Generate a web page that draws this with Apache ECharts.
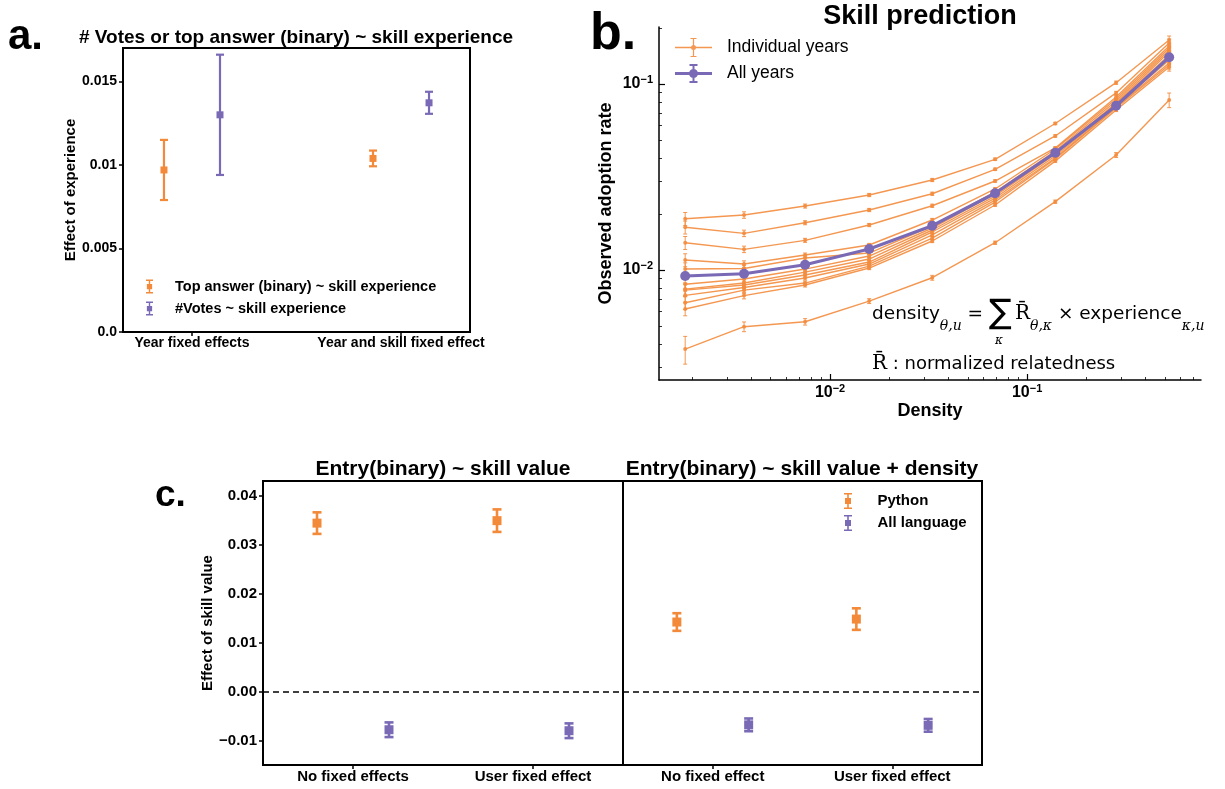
<!DOCTYPE html>
<html>
<head>
<meta charset="utf-8">
<script src="https://cdn.jsdelivr.net/npm/echarts@6/dist/echarts.min.js"></script>
<style>
  html, body { margin: 0; background: #fff; }
  #main { width: 1225px; height: 789px; }
</style>
</head>
<body>
<div id="main"></div>
<script>
// ---- panel a: # votes / top answer vs skill experience
const aCats = ['Year fixed effects', 'Year and skill fixed effect']
const aTopAnswer = [0.0097, 0.01039]
const aTopAnswerErr = [0.0018, 0.00047]
const aVotes = [0.0130, 0.01372]
const aVotesErr = [0.0036, 0.00066]
const aYTicks = [0, 0.005, 0.01, 0.015]
const aYLabels = ['0.0', '0.005', '0.01', '0.015']

// ---- panel b: skill prediction (log-log)
const bDensity = [0.00184, 0.00366, 0.00747, 0.0158, 0.033, 0.0688, 0.139, 0.283, 0.526]
const indiv1 = [0.01887, 0.01976, 0.02208, 0.02530, 0.03047, 0.03937, 0.06132, 0.1016, 0.1724]
const indiv2 = [0.01697, 0.01575, 0.01796, 0.02102, 0.02571, 0.03478, 0.05254, 0.0895, 0.1661]
const indiv3 = [0.01402, 0.01292, 0.01444, 0.01745, 0.02216, 0.03009, 0.0453, 0.0851, 0.1601]
const indiv4 = [0.01132, 0.01077, 0.01204, 0.01363, 0.01857, 0.02726, 0.0447, 0.0831, 0.1562]
const indiv5 = [0.01012, 0.01019, 0.01160, 0.01234, 0.01724, 0.02627, 0.0436, 0.0810, 0.1524]
const indiv6 = [0.00838, 0.00895, 0.01012, 0.01189, 0.01682, 0.02562, 0.0426, 0.0790, 0.1486]
const indiv7 = [0.00790, 0.00851, 0.00975, 0.01146, 0.01641, 0.02499, 0.0420, 0.0780, 0.1432]
const indiv8 = [0.00780, 0.00831, 0.00940, 0.01104, 0.01601, 0.02438, 0.0410, 0.0761, 0.1346]
const indiv9 = [0.00731, 0.00805, 0.00906, 0.01077, 0.01543, 0.02378, 0.0400, 0.0752, 0.1297]
const indiv10 = [0.00667, 0.00780, 0.00851, 0.01050, 0.01486, 0.02320, 0.0395, 0.0743, 0.1265]
const indiv11 = [0.00617, 0.00729, 0.00831, 0.01025, 0.01432, 0.02236, 0.0385, 0.0725, 0.1234]
const indiv12 = [0.00376, 0.00496, 0.00527, 0.00681, 0.00909, 0.01402, 0.02330, 0.04152, 0.0820]
const indivErr = [0.08, 0.04, 0.025, 0.02, 0.02, 0.015, 0.015, 0.02, 0.05] // relative
const indivLowErr = [0.17, 0.06, 0.04, 0.03, 0.03, 0.02, 0.02, 0.03, 0.09]
const allYears = [0.00929, 0.00955, 0.01068, 0.01298, 0.01730, 0.02585, 0.04272, 0.0764, 0.1391]
const allYearsErr = [0.012, 0.01, 0.01, 0.01, 0.01, 0.01, 0.01, 0.01, 0.012]
const bMajor = [0.01, 0.1]
const bMinorY = [0.003, 0.004, 0.005, 0.006, 0.007, 0.008, 0.009, 0.02, 0.03, 0.04, 0.05, 0.06, 0.07, 0.08, 0.09, 0.2]
const bMinorX = [0.002, 0.003, 0.004, 0.005, 0.006, 0.007, 0.008, 0.009, 0.02, 0.03, 0.04, 0.05, 0.06, 0.07, 0.08, 0.09,
  0.2, 0.3, 0.4, 0.5, 0.6, 0.7]

// ---- panel c: entry vs skill value
const cCatsLeft = ['No fixed effects', 'User fixed effect']
const cCatsRight = ['No fixed effect', 'User fixed effect']
const cPythonLeft = [0.0344, 0.0349]
const cPythonLeftErr = [0.0022, 0.0023]
const cAllLeft = [-0.0078, -0.0080]
const cAllLeftErr = [0.0015, 0.0015]
const cPythonRight = [0.0142, 0.0148]
const cPythonRightErr = [0.0018, 0.0022]
const cAllRight = [-0.0068, -0.0069]
const cAllRightErr = [0.0013, 0.0013]
const cYTicks = [-0.01, 0, 0.01, 0.02, 0.03, 0.04]

const FONT = '"Liberation Sans", Arial, Helvetica, sans-serif'
const ORANGE = '#f28a3a'
const PURPLE = '#7a6ab6'
const ORANGE_LINE = 'rgba(243,140,62,0.9)'

const iconBar = 'path://M0,0H8V1.6H4.8V5H7V11H4.8V14.4H8V16H0V14.4H3.2V11H1V5H3.2V1.6H0Z'
const iconIndiv = 'path://M0,8.8H37V10.2H0Z M17.9,0H19.1V19H17.9Z M15.5,0H21.5V1H15.5Z M15.5,18H21.5V19H15.5Z' +
  'M16,9.5A2.5,2.5 0 1,1 21,9.5A2.5,2.5 0 1,1 16,9.5Z'
const iconAll = 'path://M0,8H37V11H0Z M17.5,0H19.5V19H17.5Z M14.5,0H22.5V2H14.5Z M14.5,17H22.5V19H14.5Z' +
  'M14,9.5A4.5,4.5 0 1,1 23,9.5A4.5,4.5 0 1,1 14,9.5Z'

function errorBar(capHalf, width) {
  return function (params, api) {
    const x = api.value(0)
    const lo = api.coord([x, api.value(1)])
    const hi = api.coord([x, api.value(2)])
    const style = { stroke: api.visual('color'), lineWidth: width }
    return {
      type: 'group',
      children: [
        { type: 'line', shape: { x1: lo[0], y1: lo[1], x2: hi[0], y2: hi[1] }, style },
        { type: 'line', shape: { x1: lo[0] - capHalf, y1: lo[1], x2: lo[0] + capHalf, y2: lo[1] }, style },
        { type: 'line', shape: { x1: hi[0] - capHalf, y1: hi[1], x2: hi[0] + capHalf, y2: hi[1] }, style }
      ]
    }
  }
}

function pick(ticks, labels, v) {
  for (let i = 0; i < ticks.length; i++) {
    if (Math.abs(ticks[i] - v) < 1e-9) return labels[i]
  }
  return ''
}

const boldLabel = (size) => ({ color: '#000', fontWeight: 'bold', fontSize: size, fontFamily: FONT })

// dodge: points sit either side of the category centre
const aOffset = 0.134
const cOffset = 0.2

function dodged(values, offset) {
  return values.map((v, i) => [i + 1 + offset, v])
}
function dodgedErr(values, errs, offset) {
  return values.map((v, i) => [i + 1 + offset, v - errs[i], v + errs[i]])
}

const bIndividual = [indiv1, indiv2, indiv3, indiv4, indiv5, indiv6, indiv7, indiv8, indiv9, indiv10, indiv11, indiv12]

const chart = echarts.init(document.getElementById('main'), null, { renderer: 'canvas' })

const series = []

// panel a
series.push(
  { name: 'Top answer (binary) ~ skill experience', type: 'custom', xAxisIndex: 0, yAxisIndex: 0,
    renderItem: errorBar(4, 2.2), itemStyle: { color: ORANGE }, data: dodgedErr(aTopAnswer, aTopAnswerErr, -aOffset), z: 2 },
  { name: 'Top answer (binary) ~ skill experience', type: 'scatter', xAxisIndex: 0, yAxisIndex: 0,
    symbol: 'rect', symbolSize: 7, itemStyle: { color: ORANGE, opacity: 1 }, data: dodged(aTopAnswer, -aOffset), z: 3 },
  { name: '#Votes ~ skill experience', type: 'custom', xAxisIndex: 0, yAxisIndex: 0,
    renderItem: errorBar(4, 2.2), itemStyle: { color: PURPLE }, data: dodgedErr(aVotes, aVotesErr, aOffset), z: 2 },
  { name: '#Votes ~ skill experience', type: 'scatter', xAxisIndex: 0, yAxisIndex: 0,
    symbol: 'rect', symbolSize: 7, itemStyle: { color: PURPLE, opacity: 1 }, data: dodged(aVotes, aOffset), z: 3 }
)

// panel b
bIndividual.forEach((line, k) => {
  const rel = k === bIndividual.length - 1 ? indivLowErr : indivErr
  series.push({
    name: 'Individual years', type: 'line', xAxisIndex: 1, yAxisIndex: 1,
    data: line.map((v, i) => [bDensity[i], v]),
    symbol: 'circle', symbolSize: 4, showSymbol: true,
    lineStyle: { color: ORANGE_LINE, width: 1.4 }, itemStyle: { color: ORANGE_LINE }, z: 2
  })
  series.push({
    name: 'Individual years', type: 'custom', xAxisIndex: 1, yAxisIndex: 1,
    renderItem: errorBar(2, 1), itemStyle: { color: ORANGE_LINE },
    data: line.map((v, i) => [bDensity[i], v * (1 - rel[i]), v * (1 + rel[i])]), z: 2
  })
})
series.push(
  { name: 'All years', type: 'custom', xAxisIndex: 1, yAxisIndex: 1, renderItem: errorBar(4, 2),
    itemStyle: { color: PURPLE }, data: allYears.map((v, i) => [bDensity[i], v * (1 - allYearsErr[i]), v * (1 + allYearsErr[i])]), z: 4 },
  { name: 'All years', type: 'line', xAxisIndex: 1, yAxisIndex: 1,
    data: allYears.map((v, i) => [bDensity[i], v]),
    symbol: 'circle', symbolSize: 10, lineStyle: { color: PURPLE, width: 3.2 }, itemStyle: { color: PURPLE }, z: 5 }
)

// panel c
const zeroLine = {
  silent: true, symbol: 'none', label: { show: false },
  lineStyle: { type: [6, 4], color: '#000', width: 1.5 },
  data: [{ yAxis: 0 }]
}
;[[3, cPythonLeft, cPythonLeftErr, cAllLeft, cAllLeftErr], [4, cPythonRight, cPythonRightErr, cAllRight, cAllRightErr]]
  .forEach(([ax, py, pyErr, al, alErr]) => {
    series.push(
      { name: 'Python', type: 'custom', xAxisIndex: ax, yAxisIndex: ax, renderItem: errorBar(4.5, 2.6),
        itemStyle: { color: ORANGE }, data: dodgedErr(py, pyErr, -cOffset), z: 2 },
      { name: 'Python', type: 'scatter', xAxisIndex: ax, yAxisIndex: ax, symbol: 'rect', symbolSize: 9,
        itemStyle: { color: ORANGE, opacity: 1 }, data: dodged(py, -cOffset), z: 3, markLine: zeroLine },
      { name: 'All language', type: 'custom', xAxisIndex: ax, yAxisIndex: ax, renderItem: errorBar(4.5, 2.6),
        itemStyle: { color: PURPLE }, data: dodgedErr(al, alErr, cOffset), z: 2 },
      { name: 'All language', type: 'scatter', xAxisIndex: ax, yAxisIndex: ax, symbol: 'rect', symbolSize: 9,
        itemStyle: { color: PURPLE, opacity: 1 }, data: dodged(al, cOffset), z: 3 }
    )
  })

const powRich = {
  b: { fontSize: 16, fontWeight: 'bold', fontFamily: FONT, color: '#000', lineHeight: 20 },
  s: { fontSize: 11, fontWeight: 'bold', fontFamily: FONT, color: '#000', lineHeight: 10, verticalAlign: 'top' }
}
const powFormatter = (v) => '{b|10}{s|\u2212' + Math.round(-Math.log10(v)) + '}'

const cYAxis = (grid, showLabels) => ({
  gridIndex: grid, type: 'value', min: -0.015, max: 0.043,
  axisLine: { show: false }, splitLine: { show: false },
  axisTick: { show: showLabels, customValues: cYTicks, length: 4, lineStyle: { color: '#000', width: 1.5 } },
  axisLabel: {
    show: showLabels, customValues: cYTicks, margin: 6, ...boldLabel(15),
    formatter: (v) => v.toFixed(2).replace('-', '\u2212')
  },
  name: showLabels ? 'Effect of skill value' : '', nameLocation: 'middle', nameGap: 43,
  nameTextStyle: boldLabel(15)
})
const cXAxis = (grid, cats) => ({
  gridIndex: grid, type: 'value', min: 0.5, max: 2.5,
  axisLine: { show: false, onZero: false }, splitLine: { show: false },
  axisTick: { customValues: [1, 2], length: 4, lineStyle: { color: '#000', width: 1.5 } },
  axisLabel: { customValues: [1, 2], margin: 4, ...boldLabel(15), formatter: (v) => cats[Math.round(v) - 1] }
})

const boxGrid = { show: true, borderColor: '#000', borderWidth: 2, backgroundColor: 'transparent', outerBoundsMode: 'none' }

const option = {
  animation: false,
  backgroundColor: '#fff',
  title: [
    { text: '# Votes or top answer (binary) ~ skill experience', left: 296, top: 26, textAlign: 'center', padding: 0,
      textStyle: { ...boldLabel(19), lineHeight: 24 } },
    { text: 'Skill prediction', left: 920, top: 1, textAlign: 'center', padding: 0,
      textStyle: { ...boldLabel(27), lineHeight: 32 } },
    { text: 'Entry(binary) ~ skill value', left: 443, top: 456, textAlign: 'center', padding: 0,
      textStyle: { ...boldLabel(21), lineHeight: 26 } },
    { text: 'Entry(binary) ~ skill value + density', left: 802, top: 456, textAlign: 'center', padding: 0,
      textStyle: { ...boldLabel(21), lineHeight: 26 } }
  ],
  legend: [
    { orient: 'vertical', left: 146, top: 279, padding: 0, itemWidth: 7, itemHeight: 16, itemGap: 7,
      data: [{ name: 'Top answer (binary) ~ skill experience', icon: iconBar }, { name: '#Votes ~ skill experience', icon: iconBar }],
      textStyle: { ...boldLabel(14.5), padding: [0, 0, 0, 17] } },
    { orient: 'vertical', left: 675, top: 38, padding: 0, itemWidth: 37, itemHeight: 19, itemGap: 7,
      data: [{ name: 'Individual years', icon: iconIndiv }, { name: 'All years', icon: iconAll }],
      textStyle: { color: '#000', fontSize: 17.5, fontFamily: FONT, padding: [0, 0, 0, 10] } },
    { orient: 'vertical', left: 844, top: 493, padding: 0, itemWidth: 9, itemHeight: 16, itemGap: 6,
      data: [{ name: 'Python', icon: iconBar }, { name: 'All language', icon: iconBar }],
      textStyle: { ...boldLabel(15), padding: [0, 0, 0, 20] } }
  ],
  grid: [
    { left: 123, top: 48, width: 347, height: 284, ...boxGrid },
    { left: 659, top: 27, width: 542, height: 353, show: false, outerBoundsMode: 'none' },
    { left: 263, top: 481, width: 360, height: 284, ...boxGrid },
    { left: 623, top: 481, width: 359, height: 284, ...boxGrid }
  ],
  xAxis: [
    { gridIndex: 0, type: 'value', min: 0.67, max: 2.33,
      axisLine: { show: false, onZero: false }, splitLine: { show: false },
      axisTick: { customValues: [1, 2], length: 4, lineStyle: { color: '#000', width: 1.5 } },
      axisLabel: { customValues: [1, 2], margin: 4, ...boldLabel(14), formatter: (v) => aCats[Math.round(v) - 1] } },
    { gridIndex: 1, type: 'log', min: 0.001355, max: 0.763, position: 'bottom',
      axisLine: { show: true, onZero: false, lineStyle: { color: '#000', width: 1.5 } }, splitLine: { show: false },
      axisTick: { inside: true, length: 6, customValues: bMajor, lineStyle: { color: '#000', width: 1.2 } },
      axisLabel: { customValues: bMajor, margin: 3, formatter: powFormatter, rich: powRich },
      name: 'Density', nameLocation: 'middle', nameGap: 21, nameTextStyle: boldLabel(18) },
    { gridIndex: 1, type: 'log', min: 0.001355, max: 0.763, position: 'bottom',
      axisLine: { show: false, onZero: false }, splitLine: { show: false }, axisLabel: { show: false },
      axisTick: { inside: true, length: 3, customValues: bMinorX, lineStyle: { color: '#000', width: 0.8 } } },
    cXAxis(2, cCatsLeft),
    cXAxis(3, cCatsRight)
  ],
  yAxis: [
    { gridIndex: 0, type: 'value', min: 0, max: 0.017,
      axisLine: { show: false }, splitLine: { show: false },
      axisTick: { customValues: aYTicks, length: 4, lineStyle: { color: '#000', width: 1.5 } },
      axisLabel: { customValues: aYTicks, margin: 6, ...boldLabel(14), formatter: (v) => pick(aYTicks, aYLabels, v) },
      name: 'Effect of experience', nameLocation: 'middle', nameGap: 39, nameTextStyle: boldLabel(15) },
    { gridIndex: 1, type: 'log', min: 0.002564, max: 0.2024, position: 'left',
      axisLine: { show: true, onZero: false, lineStyle: { color: '#000', width: 1.5 } }, splitLine: { show: false },
      axisTick: { inside: true, length: 6, customValues: bMajor, lineStyle: { color: '#000', width: 1.2 } },
      axisLabel: { customValues: bMajor, margin: 6, formatter: powFormatter, rich: powRich },
      name: 'Observed adoption rate', nameLocation: 'middle', nameGap: 44, nameTextStyle: boldLabel(18) },
    { gridIndex: 1, type: 'log', min: 0.002564, max: 0.2024, position: 'left',
      axisLine: { show: false, onZero: false }, splitLine: { show: false }, axisLabel: { show: false },
      axisTick: { inside: true, length: 3, customValues: bMinorY, lineStyle: { color: '#000', width: 0.8 } } },
    cYAxis(2, true),
    cYAxis(3, false)
  ],
  graphic: [
    { type: 'text', left: 8, top: 16, style: { text: 'a.', font: 'bold 42px ' + FONT, fill: '#000' } },
    { type: 'text', left: 590, top: 9, style: { text: 'b.', font: 'bold 52px ' + FONT, fill: '#000' } },
    { type: 'text', left: 155, top: 477, style: { text: 'c.', font: 'bold 37px ' + FONT, fill: '#000' } },
    {
      type: 'text', x: 872, y: 314, z: 10,
      style: {
        text: '{t|density}{sb|\u03b8,u}{t| = }{sum|\u2211}{r|R\u0304}{sb|\u03b8,\u03ba}{t| \u00d7 experience}{sb|\u03ba,u}',
        verticalAlign: 'middle', align: 'left',
        rich: {
          t: { fontFamily: '"DejaVu Sans"', fontSize: 18.5, lineHeight: 24, fill: '#000' },
          sb: { fontFamily: '"DejaVu Serif"', fontStyle: 'italic', fontSize: 14, lineHeight: 22, verticalAlign: 'bottom', fill: '#000' },
          sum: { fontFamily: '"DejaVu Sans"', fontSize: 34, lineHeight: 38, fill: '#000' },
          r: { fontFamily: '"DejaVu Serif"', fontSize: 20, lineHeight: 24, fill: '#000', padding: [0, 0, 0, 3] }
        }
      }
    },
    { type: 'text', x: 999, y: 341, z: 10,
      style: { text: '\u03ba', font: 'italic 12px "DejaVu Serif"', fill: '#000', verticalAlign: 'middle', align: 'center' } },
    {
      type: 'text', x: 872, y: 364, z: 10,
      style: {
        text: '{r|R\u0304}{t| : normalized relatedness}', verticalAlign: 'middle', align: 'left',
        rich: {
          t: { fontFamily: '"DejaVu Sans"', fontSize: 18, lineHeight: 24, fill: '#000' },
          r: { fontFamily: '"DejaVu Serif"', fontSize: 20, lineHeight: 24, fill: '#000' }
        }
      }
    }
  ],
  series
}

chart.setOption(option)
</script>
</body>
</html>
